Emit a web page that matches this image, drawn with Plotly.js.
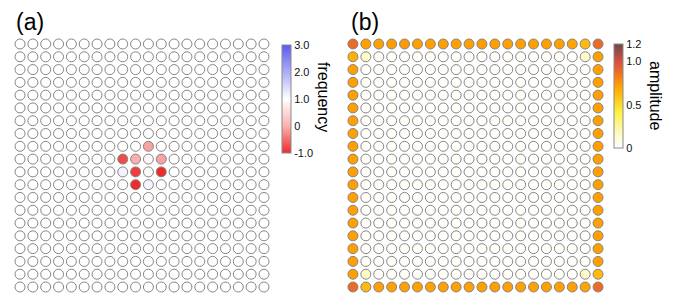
<!DOCTYPE html>
<html><head><meta charset="utf-8">
<script src="https://cdn.plot.ly/plotly-3.0.1.min.js"></script>
<style>html,body{margin:0;padding:0;background:#fff;}#plot{width:674px;height:298px;}</style>
</head><body><div id="plot"></div>
<script>
// grid indices (20 x 20 lattice)
const gridCols = [0,1,2,3,4,5,6,7,8,9,10,11,12,13,14,15,16,17,18,19];
const gridRows = [0,1,2,3,4,5,6,7,8,9,10,11,12,13,14,15,16,17,18,19];

// panel (a): frequency per site (row-major, row 0 at top)
const frequency = [
[1,1,1,1,1,1,1,1,1,1,1,1,1,1,1,1,1,1,1,1],
[1,1,1,1,1,1,1,1,1,1,1,1,1,1,1,1,1,1,1,1],
[1,1,1,1,1,1,1,1,1,1,1,1,1,1,1,1,1,1,1,1],
[1,1,1,1,1,1,1,1,1,1,1,1,1,1,1,1,1,1,1,1],
[1,1,1,1,1,1,1,1,1,1,1,1,1,1,1,1,1,1,1,1],
[1,1,1,1,1,1,1,1,1,1,1,1,1,1,1,1,1,1,1,1],
[1,1,1,1,1,1,1,1,1,1,1,1,1,1,1,1,1,1,1,1],
[1,1,1,1,1,1,1,1,1,1,1,1,1,1,1,1,1,1,1,1],
[1,1,1,1,1,1,1,1,1,1,-0.1,1,1,1,1,1,1,1,1,1],
[1,1,1,1,1,0.95,1,1,-0.75,0.0,0.9,-0.1,1,1,1,1,1,1,1,1],
[1,1,1,1,1.03,1.03,1.03,1.03,1.15,-0.85,0.92,-1.0,1,1,1,1,1,1,1,1],
[1,1,1,1,1,1,1,1,1,-1.0,1.12,1,1,1,1,1,1,1,1,1],
[1,1,1,1,1,1,1,1,1,1,1,1,1,1,1,1,1,1,1,1],
[1,1,1,1,1,1,1,1,1,1,1,1,1,1,1,1,1,1,1,1],
[1,1,1,1,1,1,1,1,1,1,1,1,1,1,1,1,1,1,1,1],
[1,1,1,1,1,1,1,1,1,1,1,1,1,1,1,1,1,1,1,1],
[1,1,1,1,1,1,1,1,1,1,1,1,1,1,1,1,1,1,1,1],
[1,1,1,1,1,1,1,1,1,1,1,1,1,1,1,1,1,1,1,1],
[1,1,1,1,1,1,1,1,1,1,1,1,1,1,1,1,1,1,1,1],
[1,1,1,1,1,1,1,1,1,1,1,1,1,1,1,1,1,1,1,1]
];

// panel (b): amplitude per site
const amplitude = [
[0.88,0.72,0.72,0.73,0.74,0.72,0.72,0.72,0.72,0.72,0.73,0.72,0.72,0.72,0.72,0.72,0.72,0.70,0.62,0.88],
[0.66,0.15,0.02,0.02,0.02,0.02,0.02,0.02,0.02,0.02,0.02,0.02,0.02,0.02,0.02,0.02,0.02,0.02,0.15,0.72],
[0.72,0.02,0.02,0.02,0.02,0.02,0.02,0.02,0.02,0.02,0.02,0.02,0.02,0.02,0.02,0.02,0.02,0.02,0.02,0.72],
[0.72,0.02,0.02,0.02,0.02,0.02,0.02,0.02,0.02,0.02,0.02,0.02,0.02,0.02,0.02,0.02,0.02,0.02,0.02,0.72],
[0.72,0.02,0.02,0.02,0.02,0.02,0.02,0.02,0.02,0.02,0.02,0.02,0.02,0.02,0.02,0.02,0.02,0.02,0.02,0.72],
[0.72,0.02,0.02,0.02,0.02,0.02,0.02,0.02,0.02,0.02,0.02,0.02,0.02,0.02,0.02,0.02,0.02,0.02,0.02,0.72],
[0.72,0.02,0.02,0.02,0.02,0.02,0.02,0.02,0.02,0.02,0.02,0.02,0.02,0.02,0.02,0.02,0.02,0.02,0.02,0.72],
[0.72,0.02,0.02,0.02,0.02,0.02,0.02,0.02,0.02,0.02,0.02,0.02,0.02,0.02,0.02,0.02,0.02,0.02,0.02,0.72],
[0.72,0.02,0.02,0.02,0.02,0.02,0.02,0.02,0.02,0.02,0.02,0.02,0.02,0.02,0.02,0.02,0.02,0.02,0.02,0.72],
[0.72,0.02,0.02,0.02,0.02,0.02,0.02,0.02,0.02,0.02,0.02,0.02,0.02,0.02,0.02,0.02,0.02,0.02,0.02,0.72],
[0.72,0.02,0.02,0.02,0.02,0.02,0.02,0.02,0.02,0.02,0.02,0.02,0.02,0.02,0.02,0.02,0.02,0.02,0.02,0.72],
[0.72,0.02,0.02,0.02,0.02,0.02,0.02,0.02,0.02,0.02,0.02,0.02,0.02,0.02,0.02,0.02,0.02,0.02,0.02,0.72],
[0.72,0.02,0.02,0.02,0.02,0.02,0.02,0.02,0.02,0.02,0.02,0.02,0.02,0.02,0.02,0.02,0.02,0.02,0.02,0.72],
[0.72,0.02,0.02,0.02,0.02,0.02,0.02,0.02,0.02,0.02,0.02,0.02,0.02,0.02,0.02,0.02,0.02,0.02,0.02,0.72],
[0.72,0.02,0.02,0.02,0.02,0.02,0.02,0.02,0.02,0.02,0.02,0.02,0.02,0.02,0.02,0.02,0.02,0.02,0.02,0.72],
[0.72,0.02,0.02,0.02,0.02,0.02,0.02,0.02,0.02,0.02,0.02,0.02,0.02,0.02,0.02,0.02,0.02,0.02,0.02,0.72],
[0.72,0.02,0.02,0.02,0.02,0.02,0.02,0.02,0.02,0.02,0.02,0.02,0.02,0.02,0.02,0.02,0.02,0.02,0.02,0.72],
[0.72,0.02,0.02,0.02,0.02,0.02,0.02,0.02,0.02,0.02,0.02,0.02,0.02,0.02,0.02,0.02,0.02,0.02,0.02,0.72],
[0.72,0.15,0.02,0.02,0.02,0.02,0.02,0.02,0.02,0.02,0.02,0.02,0.02,0.02,0.02,0.02,0.02,0.02,0.15,0.62],
[0.88,0.62,0.72,0.72,0.72,0.72,0.72,0.72,0.72,0.72,0.72,0.72,0.72,0.72,0.72,0.72,0.72,0.72,0.70,0.88]
];

const freqTickVals = [-1,0,1,2,3];
const freqTickText = ['-1.0','0','1.0','2.0','3.0'];
const ampTickVals = [0,0.5,1.0,1.2];
const ampTickText = ['0','0.5','1.0','1.2'];

function flatten(mat){
  const xs=[], ys=[], cs=[];
  gridRows.forEach((r,i)=>gridCols.forEach((c,j)=>{xs.push(c); ys.push(r); cs.push(mat[i][j]);}));
  return {xs, ys, cs};
}
const A = flatten(frequency), B = flatten(amplitude);
const W=674, H=298;
const FONT = 'Arial, "Liberation Sans", sans-serif';

const freqScale = [[0,'#ee2a2a'],[0.25,'#fbb0b0'],[0.5,'#ffffff'],[1,'#5a5af0']];
const ampScale = [[0,'#ffffff'],[0.1,'#fffbd8'],[0.35,'#fff040'],[0.5,'#ffc010'],[0.6,'#ffa000'],[0.72,'#f07020'],[0.83,'#d85040'],[1,'#6e4848']];

const cbCommon = {xanchor:'left', xpad:0, ypad:0, yanchor:'top', lenmode:'pixels', thicknessmode:'pixels', thickness:9,
  outlinewidth:1, outlinecolor:'#8a8a8a', borderwidth:0, ticks:'', tickfont:{family:FONT,size:11,color:'#111'}};

const traces = [
 {type:'scatter', mode:'markers', x:A.xs, y:A.ys, xaxis:'x', yaxis:'y', hoverinfo:'skip',
  marker:{size:10, color:A.cs, colorscale:freqScale, cmin:-1, cmax:3, line:{color:'#858585', width:1},
    showscale:true, colorbar:Object.assign({}, cbCommon, {x:282/W, y:(H-45)/H, len:108, tickvals:freqTickVals, ticktext:freqTickText})}},
 {type:'scatter', mode:'markers', x:B.xs, y:B.ys, xaxis:'x2', yaxis:'y2', hoverinfo:'skip',
  marker:{size:10, color:B.cs, colorscale:ampScale, cmin:0, cmax:1.2, line:{color:'#858585', width:1},
    showscale:true, colorbar:Object.assign({}, cbCommon, {x:614/W, y:(H-44)/H, len:104, tickvals:ampTickVals, ticktext:ampTickText})}}
];

const ax = {showgrid:false, zeroline:false, showticklabels:false, ticks:'', showline:false, fixedrange:true};
const yDom = [(H-293.4)/H, (H-37.6)/H];
const layout = {
  width:W, height:H, margin:{l:0,r:0,t:0,b:0}, paper_bgcolor:'#fff', plot_bgcolor:'rgba(0,0,0,0)',
  showlegend:false, hovermode:false, font:{family:FONT},
  xaxis: Object.assign({}, ax, {domain:[13.6/W, 270.4/W], range:[-0.5,19.5]}),
  yaxis: Object.assign({}, ax, {domain:yDom, range:[19.5,-0.5]}),
  xaxis2: Object.assign({}, ax, {domain:[346.5/W, 604.5/W], range:[-0.5,19.5]}),
  yaxis2: Object.assign({}, ax, {domain:yDom, range:[19.5,-0.5]}),
  annotations:[
    {text:'(a)', xref:'paper', yref:'paper', x:30/W, y:(H-22)/H, xanchor:'center', yanchor:'middle', showarrow:false, font:{family:FONT,size:23,color:'#000'}},
    {text:'(b)', xref:'paper', yref:'paper', x:365/W, y:(H-22)/H, xanchor:'center', yanchor:'middle', showarrow:false, font:{family:FONT,size:23,color:'#000'}},
    {text:'frequency', xref:'paper', yref:'paper', x:324/W, y:(H-97)/H, xanchor:'center', yanchor:'middle', textangle:90, showarrow:false, font:{family:FONT,size:16,color:'#000'}},
    {text:'amplitude', xref:'paper', yref:'paper', x:656/W, y:(H-95)/H, xanchor:'center', yanchor:'middle', textangle:90, showarrow:false, font:{family:FONT,size:16,color:'#000'}}
  ]
};
Plotly.newPlot('plot', traces, layout, {staticPlot:true, displayModeBar:false});
</script></body></html>
